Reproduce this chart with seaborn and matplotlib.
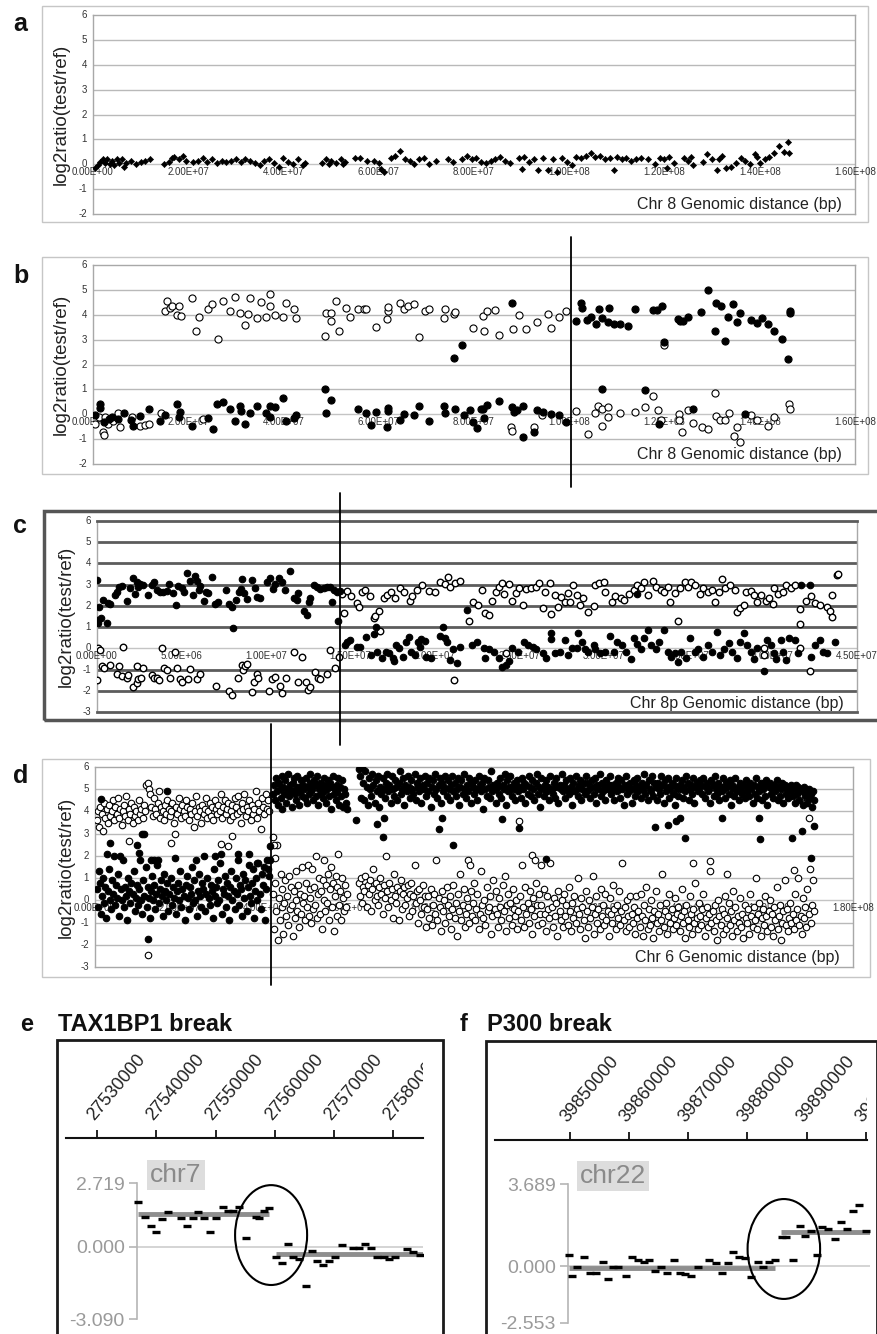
import numpy as np
import pandas as pd
import matplotlib
matplotlib.use("Agg")
import matplotlib.pyplot as plt
from matplotlib.patches import Rectangle, Ellipse
import seaborn as sns

sns.set_theme(style="white")
plt.rcParams['font.family'] = ['Liberation Sans', 'DejaVu Sans']

# ------------------------------------------------------------------ data
# panel a (positions in Mb)
a_x = [0.5, 1.0, 1.5, 2.0, 2.5, 3.0, 3.5, 4.0, 4.5, 5.0,
       5.5, 6.0, 6.5, 7.0, 8.0, 9.0, 10.0, 11.0, 12.0, 15.0,
       16.0, 16.5, 17.0, 18.0, 19.0, 19.5, 21.0, 22.0, 23.0, 24.0,
       25.0, 26.0, 27.0, 28.0, 29.0, 30.0, 31.0, 32.0, 33.0, 34.0,
       35.0, 36.0, 37.0, 38.0, 39.0, 40.0, 41.0, 42.0, 43.0, 44.0,
       44.5, 48.0, 49.0, 49.5, 50.0, 51.0, 52.0, 52.5, 53.0, 55.0,
       56.0, 57.5, 59.0, 60.0, 60.5, 61.0, 62.5, 63.5, 64.5, 65.5,
       66.5, 67.5, 68.5, 69.5, 70.5, 72.0, 74.5, 75.5, 77.5, 78.5,
       79.5, 80.5, 81.5, 82.5, 83.5, 84.5, 85.5, 86.5, 87.5, 89.5,
       90.0, 90.5, 91.5, 92.5, 93.5, 94.5, 95.5, 96.5, 97.5, 98.5,
       99.5, 100.5, 101.5, 102.5, 103.5, 104.5, 105.5, 106.5, 107.5, 108.5,
       109.5, 110.0, 111.0, 112.0, 113.0, 114.0, 115.0, 116.5, 118.0, 119.0,
       120.0, 120.5, 121.0, 122.0, 124.0, 125.0, 125.5, 126.0, 128.0, 129.0,
       130.0, 131.0, 131.5, 132.0, 133.0, 134.0, 135.0, 136.0, 137.0, 138.0,
       139.0, 139.5, 140.0, 141.0, 142.0, 143.0, 144.0, 145.0, 146.0, 146.2]
a_y = [-0.15, -0.05, 0.10, 0.20, 0.05, 0.20, 0.00, 0.15, -0.05, 0.20,
       0.05, 0.20, -0.10, 0.05, 0.15, 0.00, 0.10, 0.15, 0.20, 0.00,
       0.10, 0.25, 0.30, 0.20, 0.35, 0.15, 0.10, 0.15, 0.25, 0.10,
       0.20, 0.05, 0.15, 0.10, 0.15, 0.20, 0.10, 0.20, 0.15, 0.05,
       -0.05, 0.15, 0.20, 0.05, -0.10, 0.25, 0.10, 0.00, 0.20, -0.05,
       0.05, 0.05, 0.20, 0.00, 0.15, 0.05, 0.20, 0.00, 0.10, 0.25,
       0.25, 0.15, 0.15, 0.05, -0.20, -0.30, 0.25, 0.35, 0.55, 0.20,
       0.15, 0.00, 0.20, 0.25, 0.00, 0.15, 0.20, 0.10, 0.20, 0.35,
       0.20, 0.25, 0.10, 0.05, 0.15, 0.20, 0.30, 0.15, 0.05, 0.25,
       -0.20, 0.30, 0.10, 0.20, -0.25, 0.25, -0.25, 0.20, -0.30, 0.25,
       0.10, -0.05, 0.30, 0.25, 0.35, 0.45, 0.30, 0.35, 0.20, 0.25,
       -0.25, 0.30, 0.20, 0.25, 0.15, 0.20, 0.25, 0.20, 0.00, 0.25,
       0.20, -0.15, 0.30, 0.05, 0.25, 0.15, 0.30, -0.05, 0.10, 0.40,
       0.20, -0.25, 0.20, 0.35, -0.15, -0.10, 0.05, 0.25, 0.15, 0.00,
       0.40, 0.30, 0.05, 0.20, 0.30, 0.45, 0.75, 0.50, 0.90, 0.45]

# panel b
b_fill_hi_x = [75.8, 77.4, 87.9, 101.5, 102.5, 102.7, 103.7, 104.6, 105.6, 106.3,
               106.9, 108.1, 108.4, 109.3, 110.7, 112.4, 113.8, 117.6, 118.4, 119.5,
               119.9, 122.8, 123.2, 123.8, 124.9, 127.7, 129.1, 130.6, 130.8, 131.9,
               132.8, 133.4, 134.4, 135.2, 135.8, 138.1, 139.5, 140.5, 141.8, 142.9,
               144.7, 146.0, 146.3, 146.3]
b_fill_hi_y = [2.27, 2.80, 4.47, 3.76, 4.49, 4.28, 3.77, 3.89, 3.64, 4.24,
               3.87, 3.71, 4.28, 3.64, 3.61, 3.53, 4.24, 4.20, 4.21, 4.37,
               2.91, 3.84, 3.73, 3.75, 3.89, 4.11, 5.01, 3.36, 4.47, 4.37,
               2.95, 3.89, 4.45, 3.71, 4.09, 3.77, 3.68, 3.87, 3.63, 3.36,
               3.04, 2.23, 4.15, 4.08]
b_fill_lo_x = [0.4, 1.4, 1.5, 2.3, 3.4, 4.0, 5.3, 6.5, 7.9, 8.4,
               9.8, 11.8, 14.0, 15.1, 17.7, 18.1, 18.3, 20.7, 24.2, 25.1,
               26.1, 27.2, 28.8, 29.8, 30.8, 31.0, 32.0, 33.0, 34.4, 36.3,
               37.1, 37.2, 38.3, 39.9, 40.5, 42.2, 42.6, 48.7, 48.9, 49.9,
               55.6, 57.4, 58.3, 59.5, 61.8, 61.9, 62.0, 64.5, 65.4, 67.3,
               68.5, 70.5, 73.7, 73.9, 76.0, 77.9, 79.1, 79.8, 80.7, 81.4,
               81.8, 82.1, 82.7, 85.3, 87.9, 88.3, 89.1, 90.3, 90.2, 92.6,
               93.3, 94.4, 96.1, 97.9, 99.3, 106.9, 116.0, 118.8, 125.9, 136.9]
b_fill_lo_y = [-0.04, 0.41, 0.24, -0.33, -0.19, -0.13, -0.19, 0.04, -0.24, -0.49,
               -0.09, 0.23, -0.29, -0.05, 0.40, -0.12, 0.08, -0.47, -0.16, -0.61,
               0.40, 0.51, 0.20, -0.29, 0.33, 0.13, -0.40, 0.04, 0.35, 0.04,
               0.35, -0.13, 0.29, 0.64, -0.29, -0.17, -0.04, 1.03, 0.04, 0.57,
               0.20, 0.04, -0.45, 0.08, -0.51, 0.24, 0.13, -0.23, 0.01, -0.03,
               0.33, -0.29, 0.35, 0.04, 0.23, -0.05, 0.16, -0.33, -0.56, 0.23,
               0.23, -0.16, 0.36, 0.55, 0.31, 0.11, 0.16, 0.35, -0.93, -0.72,
               0.16, 0.11, 0.00, -0.04, -0.32, 1.00, 0.97, -0.40, 0.21, 0.00]
b_open_hi_x = [15.1, 15.6, 16.2, 16.5, 17.7, 18.1, 18.4, 20.7, 21.6, 22.3,
               24.2, 25.0, 26.3, 27.2, 28.8, 29.8, 30.9, 32.0, 32.6, 33.0,
               34.4, 35.2, 36.3, 37.1, 37.2, 38.3, 39.9, 40.5, 42.1, 42.6,
               48.7, 48.9, 49.9, 50.0, 51.1, 51.7, 53.2, 53.9, 55.6, 57.0,
               57.4, 59.5, 61.8, 61.9, 62.0, 64.5, 65.4, 66.1, 67.3, 68.5,
               69.7, 70.5, 73.7, 73.9, 75.7, 76.0, 79.7, 81.8, 82.1, 82.7,
               84.4, 85.3, 88.2, 89.5, 91.0, 93.3, 95.6, 96.1, 97.9, 99.4,
               120.0]
b_open_hi_y = [4.17, 4.55, 4.27, 4.35, 4.00, 4.35, 3.96, 4.67, 3.33, 3.92,
               4.24, 4.43, 3.04, 4.55, 4.15, 4.73, 4.07, 3.57, 4.03, 4.69,
               3.87, 4.53, 3.89, 4.83, 4.37, 3.97, 3.89, 4.47, 4.24, 3.87,
               3.15, 4.09, 4.07, 3.75, 4.56, 3.36, 4.27, 3.92, 4.24, 4.24,
               4.24, 3.51, 3.84, 4.17, 4.31, 4.47, 4.24, 4.35, 4.43, 3.09,
               4.17, 4.24, 3.87, 4.24, 4.03, 4.11, 3.47, 3.93, 3.33, 4.17,
               4.21, 3.17, 3.44, 4.00, 3.41, 3.71, 4.03, 3.48, 3.92, 4.15,
               2.80]
b_open_lo_x = [0.5, 1.3, 2.1, 2.3, 2.5, 3.2, 4.2, 5.2, 5.6, 8.1,
               9.8, 10.9, 11.7, 14.2, 23.2, 87.7, 87.9, 92.5, 94.2, 101.5,
               103.9, 105.4, 106.1, 106.9, 106.9, 108.1, 108.2, 110.7, 113.8, 116.0,
               117.6, 118.6, 119.3, 123.0, 123.0, 123.7, 124.9, 125.9, 127.9, 129.1,
               130.7, 130.9, 131.7, 132.8, 133.5, 134.5, 135.2, 135.8, 138.1, 139.5,
               141.8, 143.0, 146.1, 146.3]
b_open_lo_y = [-0.39, -0.12, -0.72, -0.83, -0.11, -0.40, -0.29, 0.04, -0.53, -0.13,
               -0.49, -0.43, -0.39, 0.05, -0.19, -0.53, -0.69, -0.53, -0.03, 0.13,
               -0.80, 0.07, 0.35, 0.21, -0.49, 0.31, -0.13, 0.05, 0.08, 0.31,
               0.72, 0.16, -0.25, 0.03, -0.23, -0.72, 0.16, -0.35, -0.53, -0.59,
               0.87, -0.09, -0.23, -0.25, 0.05, -0.89, -0.53, -1.13, -0.03, -0.25,
               -0.49, -0.13, 0.40, 0.21]
b_break = 100.4

# panel c
c_fill_hi_x = [0.0, 0.0, 0.08, 0.14, 0.22, 0.38, 0.57, 0.67, 0.77, 1.07,
               1.17, 1.32, 1.46, 1.76, 1.96, 2.15, 2.25, 2.35, 2.45, 2.55,
               2.75, 3.04, 3.24, 3.38, 3.54, 3.73, 3.93, 4.17, 4.29, 4.52,
               4.68, 4.82, 5.02, 5.16, 5.35, 5.51, 5.67, 5.81, 5.91, 6.01,
               6.11, 6.34, 6.46, 6.60, 6.82, 7.00, 7.19, 7.65, 7.79, 7.98,
               8.08, 8.24, 8.40, 8.52, 8.61, 8.71, 8.87, 9.17, 9.37, 9.47,
               9.66, 10.06, 10.26, 10.45, 10.55, 10.77, 10.95, 11.14, 11.44, 11.64,
               11.84, 11.93, 12.23, 12.43, 12.53, 12.63, 12.82, 13.02, 13.22, 13.42,
               13.61, 13.77, 13.91, 14.05, 14.21, 14.25, 14.37]
c_fill_hi_y = [3.22, 1.34, 1.18, 1.97, 1.42, 2.28, 1.18, 2.12, 2.09, 2.52,
               2.64, 2.91, 2.94, 2.23, 2.83, 3.30, 2.55, 3.11, 2.91, 3.02,
               2.99, 2.52, 2.99, 3.14, 2.75, 2.64, 2.64, 2.70, 3.02, 2.59,
               2.04, 2.96, 2.83, 2.64, 3.54, 3.18, 2.52, 3.43, 3.18, 2.74,
               2.96, 2.23, 2.64, 2.59, 3.38, 2.11, 2.17, 2.77, 2.08, 1.95,
               0.94, 2.28, 2.64, 2.80, 3.27, 2.59, 2.31, 3.21, 2.86, 2.44,
               2.36, 3.14, 3.33, 2.80, 3.05, 3.33, 3.11, 2.75, 3.65, 2.36,
               2.28, 2.59, 1.76, 1.57, 2.20, 2.36, 2.99, 2.91, 2.80, 2.86,
               2.91, 2.91, 2.20, 2.75, 2.64, 1.29, 2.70]
c_fill_lo_x = [14.7, 14.8, 15.0, 15.4, 15.6, 15.9, 16.2, 16.4, 16.5, 16.6,
               16.9, 17.1, 17.3, 17.5, 17.6, 17.7, 17.9, 18.1, 18.3, 18.5,
               18.6, 18.8, 19.0, 19.1, 19.2, 19.4, 19.5, 19.8, 20.3, 20.5,
               20.6, 20.7, 20.9, 21.1, 21.3, 21.5, 21.9, 22.2, 22.5,
               22.9, 23.0, 23.2, 23.5, 23.8, 24.0, 24.2, 24.4, 24.6, 24.9,
               25.3, 25.5, 25.8, 26.0, 26.4, 26.6, 26.9, 26.9, 27.1, 27.4,
               27.7, 27.9, 28.1, 28.4, 28.5, 28.7, 28.9, 29.1, 29.4, 29.5,
               29.8, 30.1, 30.4, 30.6, 30.8, 31.1, 31.3, 31.6, 31.8, 32.0,
               32.2, 32.4, 32.6, 32.8, 33.1, 33.3, 33.6, 33.8, 34.0, 34.2,
               34.4, 34.6, 34.9, 35.1, 35.4, 35.6, 35.9, 36.2, 36.4, 36.7,
               36.9, 37.1, 37.4, 37.6, 37.9, 38.1, 38.3, 38.5, 38.7, 38.9,
               39.1, 39.5, 39.7, 39.9, 40.1, 40.2, 40.5, 40.6, 40.8, 41.0,
               41.3, 41.5, 41.7, 42.2, 42.3, 42.5, 42.8, 43.0, 43.2, 43.7,
               32.0]
c_fill_lo_y = [0.16, 0.31, 0.39, 0.08, 0.08, 0.55, -0.31, 0.66, 1.02, -0.16,
               -0.47, -0.16, -0.24, -0.44, -0.60, 0.16, 0.00, -0.39, 0.28, 0.55,
               -0.19, -0.31, 0.28, 0.08, 0.44, 0.35, -0.39, -0.44, 0.60, 1.02,
               0.50, 0.28, -0.55, -0.03, -0.71, 0.08, 1.81, 0.16, 0.31,
               0.00, -0.47, -0.03, -0.16, -0.47, -0.86, -0.79, -0.60, 0.03, -0.16,
               0.31, 0.16, 0.08, -0.03, -0.24, -0.47, 0.71, 0.44, -0.24, -0.16,
               0.39, -0.31, 0.03, 0.00, 0.71, 0.28, -0.03, -0.16, 0.16, -0.03,
               -0.24, -0.16, 0.60, -0.16, 0.31, 0.16, -0.16, -0.50, 0.47, 0.19,
               -0.03, 0.50, 0.86, 0.16, -0.03, 0.28, 0.86, -0.16, -0.39, -0.24,
               -0.66, -0.16, -0.44, 0.47, -0.16, -0.03, -0.39, 0.16, -0.16, 0.75,
               -0.31, -0.03, 0.24, -0.16, -0.47, 0.31, 0.71, 0.16, -0.16, -0.50,
               0.03, -1.07, 0.39, 0.16, -0.24, -0.50, 0.39, -0.16, -0.55, 0.47,
               0.39, -0.24, 2.99, 2.99, -0.39, 0.16, 0.39, -0.16, -0.24, 0.31,
               2.55]
c_open_lo_x = [0.0, 0.08, 0.18, 0.28, 0.41, 0.77, 1.17, 1.32, 1.46, 1.56,
               1.76, 1.86, 2.15, 2.35, 2.35, 2.45, 2.59, 2.75, 3.24, 3.38,
               3.58, 3.69, 3.83, 3.97, 4.13, 4.33, 4.62, 4.72, 4.92, 5.02,
               5.41, 5.51, 5.91, 6.11, 7.05, 7.84, 7.98, 8.32, 8.60, 8.67,
               8.77, 8.87, 9.17, 9.27, 9.47, 9.56, 10.16, 10.35, 10.55, 10.85,
               10.95, 11.20, 11.68, 11.93, 12.13, 12.39, 12.47, 12.63, 12.92, 13.06,
               13.22, 13.61, 13.81, 14.11, 14.31]
c_open_lo_y = [-1.49, 0.00, -0.08, -0.83, -0.91, -0.79, -1.21, -0.82, -1.29, 0.06,
               -1.42, -1.26, -1.81, -0.82, -1.65, -1.45, -1.42, -0.91, -1.26, -1.38,
               -1.42, -1.49, 0.00, -0.94, -1.02, -1.42, -0.16, -0.94, -1.45, -1.57,
               -1.46, -0.97, -1.45, -1.23, -1.78, -2.00, -2.20, -1.42, -0.79, -1.02,
               -0.83, -0.75, -2.08, -1.57, -1.23, -1.38, -2.01, -1.46, -1.34, -1.78,
               -2.12, -1.38, -0.16, -1.57, -0.39, -1.60, -1.97, -1.81, -1.10, -1.38,
               -1.45, -1.23, -0.08, -0.91, -0.39]
c_open_hi_x = [14.5, 14.64, 14.8, 15.04, 15.39, 15.49, 15.69, 15.89, 16.18, 16.38,
               16.48, 16.68, 16.78, 17.01, 17.17, 17.41, 17.67, 17.92, 18.16, 18.51,
               18.65, 18.95, 19.25, 19.64, 20.04, 20.33, 20.63, 20.77, 20.93, 21.22,
               21.52, 22.01, 22.27, 22.55, 21.12,
               22.8, 23.0, 23.2, 23.4, 23.6, 23.8, 24.0, 24.1, 24.4, 24.6,
               24.8, 25.0, 25.2, 25.4, 25.7, 26.0, 26.2, 26.4, 26.5, 26.8,
               26.9, 27.1, 27.3, 27.5, 27.7, 27.9, 28.0, 28.2, 28.4, 28.6,
               28.8, 29.1, 29.4, 29.5, 29.7, 30.0, 30.1, 30.5, 30.7, 31.0,
               31.2, 31.5, 31.8, 32.0, 32.2, 32.4, 32.6, 32.9, 33.1, 33.4,
               33.6, 33.8, 33.9, 34.2, 34.4, 34.5, 34.8, 35.0, 35.2, 35.4,
               35.7, 35.9, 36.2, 36.4, 36.6, 36.8, 37.0, 37.2, 37.5, 37.8,
               37.9, 38.1, 38.3, 38.4, 38.7, 38.9, 39.1, 39.3, 39.6, 39.8,
               40.0, 40.1, 40.3, 40.6, 40.8, 41.1, 41.3, 41.6, 41.6, 42.0,
               42.3, 42.5, 42.8, 43.2, 43.4, 43.5, 43.5, 43.8, 43.9, 42.2,
               41.6, 39.5, 39.5, 24.2]
c_open_hi_y = [2.55, 1.65, 2.70, 2.48, 2.12, 1.97, 2.64, 2.75, 2.48, 1.42,
               1.54, 1.76, 0.82, 2.36, 2.52, 2.64, 2.36, 2.83, 2.67, 2.23,
               2.48, 2.75, 2.99, 2.70, 2.64, 3.14, 3.02, 3.38, 2.91, 3.07,
               3.18, 1.29, 2.20, 2.04, -1.49,
               2.75, 1.65, 1.57, 2.23, 2.64, 2.91, 3.07, 2.55, 3.02, 2.23,
               2.59, 2.83, 2.04, 2.80, 2.86, 2.91, 3.07, 1.89, 2.64, 3.07,
               1.60, 2.52, 1.97, 2.44, 2.20, 2.59, 2.20, 2.99, 2.52, 2.04,
               2.36, 1.70, 2.01, 2.99, 3.07, 3.14, 2.64, 2.20, 2.48, 2.39,
               2.28, 2.55, 2.75, 2.99, 2.83, 3.11, 2.52, 3.18, 2.91, 2.75,
               2.64, 2.91, 2.20, 2.59, 1.29, 2.83, 3.11, 2.91, 3.11, 2.99,
               2.55, 2.83, 2.64, 2.75, 2.20, 2.64, 3.27, 2.83, 2.99, 2.75,
               1.70, 1.89, 2.04, 2.67, 2.70, 2.52, 2.17, 2.52, 2.23, 2.39,
               2.08, 2.86, 2.55, 2.64, 2.99, 2.83, 2.99, 1.86, 1.13, 2.23,
               2.48, 2.12, 2.04, 1.97, 1.76, 1.49, 2.52, 3.46, 3.49, -1.05,
               0.00, 0.03, -0.31, -0.22]
c_break = 14.4

# panel d (probe values along each segment, positions in Mb)
d_left_span = (0.4, 41.4)
d_left_open_y = [3.6, 4.0, 3.3, 4.2, 3.9, 3.1, 4.4, 3.7, 4.1, 3.5, 4.3, 3.8, 4.0, 4.5, 3.6, 4.2, 3.9, 4.6, 3.7, 4.1,
                 3.4, 4.0, 4.3, 3.8, 4.7, 3.6, 4.1, 3.9, 4.4, 3.5, 4.2, 3.8, 4.0, 3.6, 4.5, 3.9, 4.1, 3.7, 4.3, 4.0,
                 5.2, 5.3, 5.0, 4.8, 4.2, 3.8, 4.6, 4.1, 3.9, 4.4, 4.9, 3.7, 4.2, 4.0, 3.6, 4.3, 3.9, 4.5, 4.1, 3.8,
                 4.0, 4.4, 3.5, 3.0, 4.2, 3.9, 4.6, 4.1, 3.7, 4.3, 4.0, 3.8, 4.5, 4.2, 3.6, 4.1, 3.9, 4.4, 3.3, 4.0,
                 4.7, 3.8, 4.2, 4.0, 3.5, 4.3, 3.9, 4.1, 4.6, 3.7, 4.0, 4.4, 3.8, 4.2, 3.6, 4.5, 4.1, 3.9, 4.3, 4.0,
                 4.8, 3.7, 4.2, 4.5, 3.9, 4.1, 4.4, 3.6, 4.0, 4.3, 3.8, 4.6, 4.2, 3.9, 4.7, 4.0, 3.5, 4.4, 4.1, 4.8,
                 3.8, 4.2, 4.0, 4.5, 3.6, 4.3, 3.9, 4.1, 4.9, 3.7, 4.4, 4.0, 3.2, 4.6, 4.2, 3.9, 4.8, 4.1, 4.5, 4.0]
d_left_fill_y = [0.5, -0.3, 1.3, 0.8, -0.6, 0.2, 1.0, -0.1, 0.6, -0.8, 0.4, 1.4, 0.0, -0.4, 0.9, 0.3, 2.0, -0.2, 0.7, 0.1,
                 1.2, -0.7, 0.5, 0.0, 1.8, -0.3, 0.6, 0.2, -0.9, 1.0, 0.4, -0.1, 0.8, 0.3, 1.3, -0.5, 0.1, 0.7, -0.2, 0.5,
                 1.8, 0.0, -0.6, 0.9, 0.2, 1.5, -0.3, 0.6, 0.1, -0.8, 0.4, 1.1, 0.0, 0.7, -0.4, 0.3, 1.6, -0.1, 0.5, 0.9,
                 0.2, -0.7, 1.2, 0.4, 0.0, 0.8, -0.5, 0.3, 1.0, -0.2, 0.6, 0.1, 1.9, -0.6, 0.4, 0.8, 0.0, 1.3, -0.3, 0.5,
                 0.2, -0.9, 0.7, 1.1, 0.1, -0.4, 0.6, 0.3, 1.5, -0.1, 0.9, 0.0, -0.7, 0.4, 1.2, 0.2, -0.3, 0.8, 0.5, 2.0,
                 -0.5, 0.3, 1.0, 0.1, -0.2, 0.7, 0.4, -0.8, 1.4, 0.2, 0.6, -0.1, 0.9, 0.0, 1.7, -0.6, 0.5, 0.3, 1.1, -0.3,
                 0.8, 0.2, -0.9, 0.6, 1.3, 0.0, 0.4, -0.4, 1.0, 0.3, 2.1, -0.2, 0.7, 0.5, -0.7, 1.2, 0.1, 0.9, -0.5, 0.6,
                 1.6, 0.2, -0.1, 0.8, 1.4, -0.8, 0.4, 1.0, 0.0, 1.7, 0.3, -0.4, 1.2, 0.7, 1.5, -0.9, 0.5, 1.8, 1.4, 1.1]
d_right_span1 = (42.3, 59.8)
d_right_span2 = (62.6, 170.8)
d_r1_fill_y = [4.8, 5.2, 4.5, 5.5, 4.9, 4.3, 5.3, 5.0, 4.6, 5.6, 4.1, 5.1, 4.8, 5.4, 4.4, 5.0, 5.7, 4.7, 5.2, 4.9,
               4.2, 5.3, 5.5, 4.8, 5.0, 4.5, 5.6, 5.1, 4.3, 4.9, 5.4, 4.7, 5.2, 5.0, 4.6, 5.5, 4.4, 5.1, 4.8, 5.3,
               5.7, 4.9, 5.0, 4.5, 5.4, 5.2, 4.7, 5.6, 4.3, 5.0, 5.3, 4.8, 5.1, 4.6, 5.5, 4.9, 5.2, 4.4, 5.0, 5.4,
               4.7, 5.3, 4.1, 5.1, 5.6, 4.8, 5.0, 4.5, 5.2, 4.9, 5.5, 4.3, 5.1, 4.7, 5.4, 4.2, 5.0, 4.8, 4.4, 4.1]
d_r2_fill_y = [5.9, 5.6, 4.6, 6.0, 5.3, 4.5, 5.8, 5.1, 4.3, 5.5, 5.0, 4.7, 5.7, 5.2, 4.4, 5.4, 4.9, 5.6, 4.2, 5.1,
               4.8, 5.5, 5.0, 4.6, 5.3, 5.7, 4.9, 5.2, 4.4, 5.6, 5.0, 4.7, 5.4, 5.1, 4.5, 5.3, 5.8, 4.8, 5.0, 5.5,
               4.3, 5.2, 4.9, 5.6, 5.1, 4.6, 5.4, 5.0, 4.8, 5.7, 4.5, 5.3, 5.1, 4.9, 5.5, 4.4, 5.2, 5.0, 5.6, 4.7,
               5.3, 4.9, 5.5, 4.2, 5.1, 5.4, 4.8, 5.7, 5.0, 4.6, 5.2, 5.5, 4.4, 5.3, 4.9, 5.1, 5.6, 4.7, 5.4, 5.0,
               4.5, 5.2, 5.6, 4.9, 5.3, 4.7, 5.0, 5.5, 4.3, 5.1, 5.4, 4.8, 5.7, 5.0, 4.6, 5.2, 4.9, 5.5, 4.4, 5.3,
               5.1, 4.8, 5.4, 5.0, 4.5, 5.6, 5.2, 4.9, 5.3, 4.1, 5.5, 5.0, 4.7, 5.4, 5.1, 4.6, 5.8, 4.9, 5.2, 5.0,
               4.4, 5.3, 5.1, 4.8, 5.5, 4.6, 5.2, 5.0, 5.7, 4.3, 5.4, 4.9, 5.1, 5.6, 4.7, 5.0, 5.3, 4.5, 5.2, 5.4,
               4.9, 5.1, 4.6, 5.5, 5.0, 5.3, 4.4, 5.2, 4.8, 5.6, 5.1, 4.7, 5.4, 5.0, 4.5, 5.3, 5.7, 4.8, 5.1, 4.2,
               5.5, 5.0, 4.7, 5.2, 5.4, 4.9, 5.1, 4.5, 5.6, 5.0, 4.8, 5.3, 4.6, 5.5, 5.1, 4.4, 5.2, 5.0, 5.7, 4.9,
               5.2, 4.6, 5.4, 5.0, 4.8, 5.5, 5.1, 4.3, 5.3, 4.9, 5.6, 5.0, 4.7, 5.2, 5.4, 4.5, 5.0, 5.3, 4.8, 5.6,
               4.9, 5.3, 5.0, 4.6, 5.4, 5.1, 4.8, 5.5, 4.4, 5.2, 5.0, 5.7, 4.7, 5.3, 4.9, 5.1, 4.5, 5.4, 5.0, 5.2,
               5.6, 4.8, 5.2, 5.0, 4.5, 5.3, 4.9, 5.5, 5.1, 4.6, 5.4, 5.0, 4.3, 5.2, 5.6, 4.8, 5.1, 4.9, 5.3, 4.4,
               5.0, 5.4, 4.7, 5.2, 5.5, 4.9, 5.1, 4.6, 5.3, 5.0, 5.7, 4.8, 5.2, 4.5, 5.4, 5.0, 4.9, 5.6, 4.7, 5.3,
               5.1, 4.5, 5.3, 5.0, 4.8, 5.6, 5.2, 4.4, 5.4, 4.9, 5.1, 5.5, 4.6, 5.0, 5.3, 4.8, 5.2, 4.3, 5.5, 5.0,
               4.7, 5.2, 5.0, 5.4, 4.6, 5.1, 4.9, 5.6, 5.3, 4.5, 5.0, 5.2, 4.8, 5.5, 4.4, 5.1, 5.3, 4.9, 5.0, 5.4,
               5.2, 4.8, 5.5, 4.6, 5.1, 5.3, 4.9, 5.0, 4.4, 5.4, 5.2, 4.7, 5.6, 5.0, 4.8, 5.3, 4.5, 5.1, 4.9, 5.5,
               5.0, 4.6, 5.3, 5.1, 4.8, 5.4, 4.3, 5.2, 5.0, 4.7, 5.5, 4.9, 5.1, 4.5, 5.3, 5.0, 4.8, 5.2, 4.6, 5.4,
               4.9, 5.1, 4.7, 5.3, 5.0, 4.4, 5.2, 4.8, 5.5, 4.6, 5.1, 4.9, 5.3, 4.5, 5.0, 5.2, 4.7, 5.4, 4.3, 5.1,
               5.3, 4.8, 5.0, 4.6, 5.2, 4.9, 5.4, 4.5, 5.1, 4.7, 5.0, 5.3, 4.4, 5.2, 4.8, 5.0, 4.6, 5.1, 4.9, 5.2,
               4.7, 5.0, 4.4, 5.2, 4.8, 5.1, 4.5, 4.9, 5.0, 4.3, 5.1, 4.7, 4.9, 4.4, 5.0, 4.6, 4.8, 4.2, 4.9, 4.5]
d_r1_open_y = [0.3, -1.3, 0.8, -0.5, 2.5, -1.8, 0.1, -0.9, 1.2, -0.3, 0.5, -1.5, -0.1, 0.9, -0.7, 0.2, -1.1, 1.1, -0.4, 0.6,
               -0.2, -1.6, 0.4, -0.8, 1.3, 0.0, -0.5, 0.7, -1.2, 0.3, -0.6, 1.5, -0.1, 0.2, -0.9, 0.8, -0.3, 1.6, -0.7, 0.5,
               0.1, -1.0, 1.4, -0.4, 0.6, -0.2, 2.0, -0.8, 0.3, 1.0, -0.6, 0.4, -1.3, 0.9, 0.0, 1.8, -0.5, 0.7, -0.1, 1.2,
               -0.9, 0.5, 1.5, -0.3, 0.8, -1.4, 0.2, 1.1, -0.7, 0.6, 2.1, -0.2, 0.4, -0.9, 1.0, 0.1, -0.5, 0.7, -0.3, 0.3]
d_r2_open_y = [0.8, 0.2, 1.0, -0.1, 0.6, 0.4, 1.1, -0.3, 0.7, 0.3, 0.9, -0.5, 0.5, 1.4, 0.0, 0.8, 0.2, -0.2, 0.6, 1.0,
               0.3, -0.6, 0.7, 0.1, 2.0, 0.4, -0.3, 0.8, 0.0, 0.5, -0.8, 1.2, 0.2, -0.1, 0.6, -0.9, 0.4, 0.9, -0.4, 0.3,
               0.6, -0.2, 0.1, 0.7, -0.7, 0.3, 0.8, -0.5, 0.2, 1.6, -0.1, 0.4, -1.0, 0.5, 0.0, -0.6, 0.7, -0.3, 0.2, -1.2,
               -0.4, 0.2, -0.8, 0.5, -1.1, -0.2, 0.3, -0.6, 1.8, -0.9, 0.1, -0.3, -1.4, 0.4, -0.5, 0.0, -1.0, 0.6, -0.2, -0.7,
               0.2, -1.3, -0.4, 0.7, -0.8, -0.1, -1.6, 0.3, -0.5, 1.2, -0.9, -0.2, 0.5, -1.2, -0.6, 0.1, -0.3, -1.0, 0.4, -0.7,
               -0.1, 0.8, -0.9, -0.4, 0.3, -1.3, -0.6, 1.3, -0.2, -0.8, 0.0, -1.1, 0.6, -0.5, -0.3, 0.2, -1.5, -0.7, 0.9, -0.4,
               0.4, -0.6, -1.2, 0.1, -0.3, -0.9, 0.7, -0.5, 1.1, -1.4, -0.2, 0.3, -0.8, -0.1, -1.1, 0.5, -0.4, -0.7, 0.0, -1.3,
               -0.5, 0.2, -0.9, 1.6, -0.3, -1.2, 0.6, -0.6, -0.1, -1.0, 0.4, -0.4, -1.5, 0.1, -0.7, 0.8, -0.2, -1.1, 0.3, -0.6,
               -0.2, -1.0, 0.5, -0.6, -1.4, 0.2, -0.4, -0.8, 1.7, -0.3, -1.2, 0.1, -0.7, -0.1, -1.6, 0.4, -0.5, -0.9, 0.0, -1.2,
               0.3, -0.7, -0.2, -1.1, 0.6, -0.5, -1.4, -0.1, -0.8, 0.2, -1.0, -0.4, 1.0, -0.6, -1.3, 0.1, -0.3, -0.9, -1.7, 0.4,
               -0.5, -1.2, 0.0, -0.8, -0.3, 1.1, -1.5, -0.6, 0.2, -1.0, -0.4, -1.3, 0.5, -0.7, -0.2, -1.1, 0.3, -0.9, -0.5, -1.6,
               0.1, -0.6, -1.0, 0.7, -0.4, -1.3, -0.2, -0.8, 0.4, -1.1, -0.5, 1.7, -0.9, -0.3, -1.4, 0.0, -0.7, -1.2, 0.2, -0.6,
               -1.0, -0.3, -1.5, 0.2, -0.8, -0.5, -1.2, 0.3, -0.7, -1.6, -0.2, -0.9, 0.6, -1.3, -0.4, -1.1, 0.0, -0.8, -1.7, -0.5,
               0.4, -1.0, -0.6, -1.4, -0.2, -0.9, 1.2, -1.2, -0.5, -0.1, -1.5, -0.7, 0.3, -1.0, -0.4, -1.3, -0.8, 0.1, -1.1, -0.6,
               -0.3, -1.4, -0.7, 0.5, -1.0, -0.5, -1.7, -0.2, -0.9, -1.2, 0.2, -0.6, -1.5, -0.4, -1.0, 0.8, -0.8, -1.3, -0.1, -0.7,
               -1.1, -0.4, 0.3, -1.6, -0.8, -0.3, -1.2, -0.6, 1.3, -1.0, -0.5, -1.4, -0.2, -0.9, -1.8, 0.0, -0.7, -1.1, -0.4, -1.5,
               -0.6, 0.2, -1.3, -0.8, -0.1, -1.1, -0.5, -1.6, 0.4, -0.9, -0.3, -1.4, -0.7, -1.0, 0.1, -1.2, -0.6, -1.7, -0.2, -0.8,
               -1.0, -0.4, -1.5, 0.3, -0.7, -1.2, -0.3, -0.9, 1.0, -1.3, -0.6, -0.1, -1.6, -0.8, -0.4, -1.1, 0.2, -0.7, -1.4, -0.5,
               0.0, -1.2, -0.6, -1.6, -0.3, -0.9, 0.6, -1.3, -0.7, -0.2, -1.8, -1.0, -0.5, 0.9, -1.1, -0.4, -1.4, -0.8, -0.1, -1.0,
               -0.6, -1.3, 0.3, -0.9, -0.4, 1.0, -1.1, -0.7, -1.5, 0.1, -0.8, -0.3, -1.2, 0.5, -0.6, 1.4, -1.0, -0.2, 0.9, -0.5]
d_fill_out_x = [1.4, 3.5, 2.8, 6.0, 10.0, 10.5, 11.2, 11.6, 12.6, 13.2,
                14.0, 15.0, 17.0, 24.0, 28.5, 30.0, 34.0, 36.5, 38.5, 41.5,
                41.6, 62.0, 67.0, 68.3, 68.6, 81.6, 82.5, 85.0, 96.6, 100.7,
                107.0, 133.0, 136.0, 138.0, 139.0, 140.0, 149.0, 157.6, 158.0, 165.6,
                168.0, 170.0, 170.8]
d_fill_out_y = [4.55, 2.6, 2.1, 2.0, 2.5, 2.15, 3.0, 3.0, -1.75, 1.8,
                1.8, 1.8, 4.9, 1.8, 2.0, 2.1, 1.8, 2.1, 1.7, 2.45,
                1.8, 3.6, 3.45, 2.85, 3.7, 3.2, 3.7, 2.5, 3.65, 3.25,
                1.85, 3.3, 3.4, 3.55, 3.7, 2.8, 3.7, 3.7, 2.75, 2.8,
                3.1, 1.9, 3.35]
d_open_out_x = [12.6, 8.0, 18.0, 30.0, 31.5, 32.5, 42.3, 42.5, 42.8, 88.6,
                89.0, 100.7, 103.8, 104.5, 106.0, 142.0, 146.0, 150.0, 166.0, 168.5, 169.5]
d_open_out_y = [-2.45, 2.65, 2.6, 2.55, 2.45, 2.9, 2.85, 2.5, 1.9, 1.8,
                1.6, 3.55, 2.05, 1.8, 1.6, 1.7, 1.75, 1.2, 1.35, 4.4, 3.7]
d_break = 41.8

ab_xticks = [0, 20, 40, 60, 80, 100, 120, 140, 160]
c_xticks = [0, 5, 10, 15, 20, 25, 30, 35, 40, 45]
d_xticks = [0, 20, 40, 60, 80, 100, 120, 140, 160, 180]

# panel e (TAX1BP1, chr7)
e_pos = [27536940, 27538075, 27539040, 27539940, 27541000, 27542020, 27544120, 27545135, 27546150, 27547100,
         27548065, 27549080, 27550100, 27551230, 27552180, 27553030, 27554040, 27555180, 27556870, 27557430,
         27558270, 27559120, 27560200, 27561220, 27562230, 27563180, 27564200, 27565330, 27566300, 27567250,
         27568260, 27569280, 27570240, 27571380, 27573240, 27574190, 27575320, 27576290, 27577400, 27578420,
         27579430, 27580400, 27582380, 27583400, 27584630]
e_log2 = [1.93, 1.28, 0.88, 0.65, 1.17, 1.50, 1.24, 0.88, 1.24, 1.50,
          1.24, 0.65, 1.24, 1.68, 1.54, 1.54, 1.71, 0.36, 1.28, 1.23,
          1.54, 1.64, -0.45, -0.71, 0.11, -0.45, -0.52, -1.66, -0.17, -0.60,
          -0.80, -0.60, -0.45, 0.07, -0.07, -0.07, 0.11, -0.07, -0.45, -0.45,
          -0.54, -0.45, -0.08, -0.23, -0.36]
e_seg_start = [27536940, 27560200]
e_seg_end = [27559120, 27585100]
e_seg_mean = [1.40, -0.31]
e_ticks = [27530000, 27540000, 27550000, 27560000, 27570000, 27580000]
e_xlim = (27524700, 27585100)
e_yticks = [-3.090, 0.000, 2.719]
e_ellipse = (27559400, 0.50, 12190, 4.27)

# panel f (P300, chr22)
f_pos = [39849713, 39850287, 39851132, 39852246, 39853260, 39854222, 39855354, 39856199, 39857043, 39857989,
         39859290, 39860252, 39861266, 39862279, 39863225, 39864188, 39865201, 39866214, 39867346, 39868292,
         39869255, 39870150, 39871281, 39873190, 39874322, 39875335, 39876348, 39877193, 39878156, 39879169,
         39880284, 39881415, 39882260, 39883222, 39884236, 39885469, 39886145, 39887277, 39888391, 39889304,
         39890249, 39891381, 39892107, 39893238, 39894370, 39895316, 39896279, 39897292, 39898305, 39899538]
f_log2 = [0.50, -0.45, -0.03, 0.42, -0.30, -0.30, 0.17, -0.60, -0.03, -0.03,
          -0.45, 0.42, 0.27, 0.17, 0.27, -0.23, -0.03, -0.30, 0.27, -0.30,
          -0.37, -0.45, -0.03, 0.27, 0.12, -0.30, 0.12, 0.64, 0.42, 0.35,
          -0.51, 0.17, -0.03, 0.17, 0.27, 1.32, 1.32, 0.27, 1.80, 1.36,
          1.59, 0.50, 1.74, 1.65, 1.20, 2.00, 1.65, 2.49, 2.75, 1.59]
f_seg_start = [39849713, 39885300]
f_seg_end = [39884236, 39900200]
f_seg_mean = [-0.10, 1.55]
f_ticks = [39850000, 39860000, 39870000, 39880000, 39890000, 39900000]
f_xlim = (39837330, 39900200)
f_yticks = [-2.553, 0.000, 3.689]
f_ellipse = (39885756, 0.77, 12160, 4.5)

# ------------------------------------------------------------------ figure
W, H = 878, 1334
fig = plt.figure(figsize=(W / 100, H / 100), dpi=100)
fig.patch.set_facecolor('white')


def frac_box(x0, y0, x1, y1):
    return [x0 / W, 1 - y1 / H, (x1 - x0) / W, (y1 - y0) / H]


def outline(x0, y0, x1, y1, color, lw):
    fig.add_artist(Rectangle((x0 / W, 1 - y1 / H), (x1 - x0) / W, (y1 - y0) / H,
                             transform=fig.transFigure, fill=False,
                             edgecolor=color, linewidth=lw, zorder=0))


def points(ax, x, y, filled, marker='o', s=20, lw=0.8):
    df = pd.DataFrame({'pos': x, 'log2': y})
    sns.scatterplot(data=df, x='pos', y='log2', ax=ax, marker=marker, s=s,
                    color='black' if filled else 'white', edgecolor='black',
                    linewidth=lw, zorder=4, legend=False)
    ax.set_xlabel('')
    ax.set_ylabel('')


def excel_panel(letter, letter_y, box, plot, ymin, ymax, xticks, xlabel,
                grid_color, grid_lw, box_color, box_lw, ylab_x, dark=False):
    outline(*box, box_color, box_lw)
    ax = fig.add_axes(frac_box(*plot))
    ax.set_facecolor('white')
    ax.set_xlim(xticks[0], xticks[-1])
    ax.set_ylim(ymin, ymax)
    ax.set_xticks([])
    ax.set_yticks([])
    for s in ax.spines.values():
        s.set_color('#a8a8a8')
        s.set_linewidth(1.0)
    if dark:
        for s in ('top', 'bottom'):
            ax.spines[s].set_color(grid_color)
            ax.spines[s].set_linewidth(grid_lw)
    for yv in range(ymin + 1, ymax):
        if yv == 0:
            ax.axhline(yv, color='#c4c4c4', lw=1.0, zorder=1)
        else:
            ax.axhline(yv, color=grid_color, lw=grid_lw, zorder=1)
    for yv in range(ymin, ymax + 1):
        ax.annotate(str(yv), (xticks[0], yv), xytext=(-6, 0), textcoords='offset pixels',
                    ha='right', va='center', fontsize=7, color='#333333',
                    annotation_clip=False)
    for xv in xticks:
        ax.annotate(f"{xv * 1e6:.2E}", (xv, 0), xytext=(0, -3), textcoords='offset pixels',
                    ha='center', va='top', fontsize=7, color='#333333',
                    annotation_clip=False, zorder=3)
    ax.text(0.983, 0.047, xlabel, transform=ax.transAxes, ha='right', va='center',
            fontsize=11.5, color='#222222', zorder=5)
    fig.text(ylab_x / W, 1 - (plot[1] + plot[3]) / 2 / H, 'log2ratio(test/ref)',
             rotation=90, ha='center', va='center', fontsize=13.5, color='#222222')
    fig.text(13 / W, 1 - letter_y / H, letter, ha='left', va='baseline',
             fontsize=18, fontweight='bold', color='#111111')
    return ax


def vbreak(ax, xb, top_px, bot_px, plot):
    h = plot[3] - plot[1]
    ax.axvline(xb, ymin=(plot[3] - bot_px) / h, ymax=(plot[3] - top_px) / h,
               color='black', lw=1.3, clip_on=False, zorder=6)


# ---- panel a
pa = (93, 15, 855, 214)
ax_a = excel_panel('a', 31, (42, 6, 868, 222), pa, -2, 6, ab_xticks,
                   'Chr 8 Genomic distance (bp)', '#b9b9b9', 1.0, '#c6c6c6', 1.0, 61)
points(ax_a, a_x, a_y, True, marker='D', s=10, lw=0.4)
ax_a.set_xlim(0, 160); ax_a.set_ylim(-2, 6)

# ---- panel b
pb = (93, 265, 855, 464)
ax_b = excel_panel('b', 283, (42, 257, 868, 474), pb, -2, 6, ab_xticks,
                   'Chr 8 Genomic distance (bp)', '#b9b9b9', 1.0, '#c6c6c6', 1.0, 61)
points(ax_b, b_open_hi_x, b_open_hi_y, False, s=26)
points(ax_b, b_open_lo_x, b_open_lo_y, False, s=26)
points(ax_b, b_fill_hi_x, b_fill_hi_y, True, s=26)
points(ax_b, b_fill_lo_x, b_fill_lo_y, True, s=26)
ax_b.set_xlim(0, 160); ax_b.set_ylim(-2, 6)
vbreak(ax_b, b_break, 237, 487, pb)

# ---- panel c
pc = (97, 521, 857, 712)
ax_c = excel_panel('c', 533, (44, 511, 895, 720), pc, -3, 6, c_xticks,
                   'Chr 8p Genomic distance (bp)', '#5c5c5c', 2.0, '#555555', 2.5, 66, dark=True)
points(ax_c, c_open_lo_x, c_open_lo_y, False, s=22, lw=1.0)
points(ax_c, c_open_hi_x, c_open_hi_y, False, s=22, lw=1.0)
points(ax_c, c_fill_hi_x, c_fill_hi_y, True, s=22)
points(ax_c, c_fill_lo_x, c_fill_lo_y, True, s=22)
ax_c.set_xlim(0, 45); ax_c.set_ylim(-3, 6)
vbreak(ax_c, c_break, 493, 745, pc)

# ---- panel d
pd_ = (95, 767, 853, 967)
ax_d = excel_panel('d', 783, (42, 759, 870, 977), pd_, -3, 6, d_xticks,
                   'Chr 6 Genomic distance (bp)', '#b9b9b9', 1.0, '#c6c6c6', 1.0, 66)
d_lx_o = np.linspace(*d_left_span, len(d_left_open_y))
d_lx_f = np.linspace(*d_left_span, len(d_left_fill_y))
d_r1x_o = np.linspace(*d_right_span1, len(d_r1_open_y))
d_r2x_o = np.linspace(*d_right_span2, len(d_r2_open_y))
d_r1x_f = np.linspace(*d_right_span1, len(d_r1_fill_y))
d_r2x_f = np.linspace(*d_right_span2, len(d_r2_fill_y))
points(ax_d, d_lx_o, d_left_open_y, False, s=22)
points(ax_d, d_r1x_o, d_r1_open_y, False, s=22)
points(ax_d, d_r2x_o, d_r2_open_y, False, s=22)
points(ax_d, d_open_out_x, d_open_out_y, False, s=22)
points(ax_d, d_lx_f, d_left_fill_y, True, s=22)
points(ax_d, d_r1x_f, d_r1_fill_y, True, s=22)
points(ax_d, d_r2x_f, d_r2_fill_y, True, s=22)
points(ax_d, d_fill_out_x, d_fill_out_y, True, s=22)
ax_d.set_xlim(0, 180); ax_d.set_ylim(-3, 6)
vbreak(ax_d, d_break, 724, 985, pd_)


# ---- panels e, f (browser views)
def browser_panel(letter, title, letter_x, title_x, box, ruler_px, data_px, xlim, ticks,
                  yaxis_x, ylim, yticks, pos, vals, seg_s, seg_e, seg_m, ell,
                  chr_name, chr_xy):
    outline(*box, '#1a1a1a', 2.0)
    fig.text(letter_x / W, 1 - 1031 / H, letter, ha='left', va='baseline',
             fontsize=17, fontweight='bold', color='#111111')
    fig.text(title_x / W, 1 - 1031 / H, title, ha='left', va='baseline',
             fontsize=17, fontweight='bold', color='#111111')
    # ruler
    axr = fig.add_axes(frac_box(*ruler_px))
    axr.patch.set_alpha(0)
    axr.set_xlim(*xlim)
    axr.set_ylim(0, 1)
    for s in ('top', 'left', 'right'):
        axr.spines[s].set_visible(False)
    axr.spines['bottom'].set_color('#111111')
    axr.spines['bottom'].set_linewidth(1.5)
    axr.set_xticks(ticks)
    axr.set_xticklabels([])
    axr.set_yticks([])
    axr.tick_params(axis='x', direction='in', length=6, width=1.3, color='#111111', bottom=True)
    for t in ticks:
        txt = axr.annotate(str(t), (t, 0), xytext=(-3, 17), textcoords='offset pixels',
                           rotation=50, rotation_mode='anchor', ha='left', va='baseline',
                           fontsize=13, color='#222222', annotation_clip=False)
        txt.set_clip_on(True)
        txt.set_clip_box(axr.bbox)
    # data
    axd = fig.add_axes(frac_box(*data_px))
    axd.patch.set_alpha(0)
    axd.hlines(0, yaxis_x, xlim[1], color='#cdcdcd', lw=1.2, zorder=1)
    axd.hlines(seg_m, seg_s, seg_e, color='#8e8e8e', lw=3.5, zorder=2)
    sns.scatterplot(x=pos, y=vals, ax=axd, marker='_', s=30, color='black',
                    linewidth=2.4, zorder=3, legend=False)
    axd.add_patch(Ellipse((ell[0], ell[1]), ell[2], ell[3], fill=False,
                          edgecolor='black', linewidth=1.5, zorder=4))
    axd.set_xlim(*xlim)
    axd.set_ylim(*ylim)
    for s in ('top', 'right', 'bottom'):
        axd.spines[s].set_visible(False)
    axd.spines['left'].set_position(('data', yaxis_x))
    axd.spines['left'].set_bounds(yticks[0], yticks[-1])
    axd.spines['left'].set_color('#b5b5b5')
    axd.spines['left'].set_linewidth(1.2)
    axd.set_xticks([])
    axd.set_yticks(yticks)
    axd.set_yticklabels([f"{v:.3f}" for v in yticks], fontsize=14, color='#9a9a9a')
    axd.tick_params(axis='y', direction='out', length=6, width=1.2, color='#b5b5b5',
                    left=True, pad=3)
    axd.set_xlabel('')
    axd.set_ylabel('')
    fig.text(chr_xy[0] / W, 1 - chr_xy[1] / H, chr_name, ha='left', va='baseline',
             fontsize=19, color='#8a8a8a',
             bbox=dict(boxstyle='square,pad=0.12', facecolor='#dddddd', edgecolor='none'))


browser_panel('e', 'TAX1BP1 break', 20, 58, (57, 1040, 443, 1350), (66, 1043, 423, 1138),
              (66, 1138, 423, 1334), e_xlim, e_ticks, 27536770, (-3.73, 4.65), e_yticks,
              e_pos, e_log2, e_seg_start, e_seg_end, e_seg_mean, e_ellipse, 'chr7', (150, 1182))
browser_panel('f', 'P300 break', 460, 487, (486, 1041, 877, 1350), (495, 1044, 867, 1140),
              (495, 1140, 870, 1334), f_xlim, f_ticks, 39849611, (-3.06, 5.68), f_yticks,
              f_pos, f_log2, f_seg_start, f_seg_end, f_seg_mean, f_ellipse, 'chr22', (580, 1183))

fig.savefig('out.png', dpi=100, facecolor='white')
